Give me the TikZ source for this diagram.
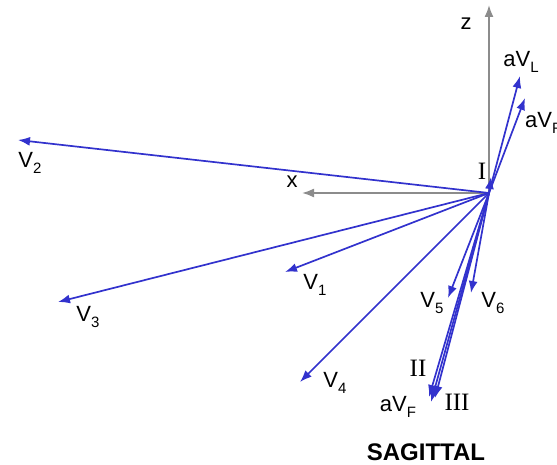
\documentclass[tikz,border=0pt]{standalone}
\usepackage{fontspec}
\setmainfont{Liberation Sans}
\newfontfamily\romanfont{Liberation Serif}
\usetikzlibrary{arrows.meta}
\definecolor{vecblue}{RGB}{50,50,205}
\definecolor{axisgray}{RGB}{140,140,140}
\newcommand{\lsub}[1]{\raisebox{-0.45ex}{\fontsize{15}{15}\selectfont #1}}
\tikzset{
  vec/.style={draw=vecblue, line width=1.7pt, -{Latex[length=12pt,width=9pt]}},
  axis/.style={draw=axisgray, line width=1.7pt, -{Latex[length=12pt,width=9pt]}},
  lbl/.style={font=\fontsize{22}{22}\selectfont, inner sep=0pt},
  rlbl/.style={font=\fontsize{25}{25}\selectfont\romanfont, inner sep=0pt},
}
\begin{document}
\begin{tikzpicture}[x=1pt,y=-1pt]
\useasboundingbox (0,0) rectangle (557,465);
\coordinate (O) at (489,193);
\coordinate (tZ) at (489,5);
\coordinate (tX) at (302,193);
\coordinate (t1) at (285,272);
\coordinate (t2) at (18,140);
\coordinate (t3) at (58,302);
\coordinate (t4) at (300,382);
\coordinate (t5) at (448,298);
\coordinate (t6) at (471,293);
\coordinate (tII) at (429,397);
\coordinate (tF) at (431,402);
\coordinate (tIII) at (435,398);
\coordinate (tL) at (520,76);
\coordinate (tR) at (525,98);
\coordinate (tI) at (491,177);
\draw[axis] (O) -- (tZ);
\draw[axis] (O) -- (tX);
\draw[vec] (O) -- (t2);
\draw[vec] (O) -- (t3);
\draw[vec] (O) -- (t1);
\draw[vec] (O) -- (t4);
\draw[vec] (O) -- (t5);
\draw[vec] (O) -- (t6);
\draw[vec] (O) -- (tII);
\draw[vec] (O) -- (tF);
\draw[vec] (O) -- (tIII);
\draw[vec] (O) -- (tL);
\draw[vec] (O) -- (tR);
\draw[vec] (O) -- (tI);
\node[lbl] (lZ) at (466,24) {z};
\node[lbl] (lX) at (292,182) {x};
\node[rlbl] (lI) at (482,171) {I};
\node[lbl] (l1) at (315,285) {V\lsub{1}};
\node[lbl] (l2) at (30,163) {V\lsub{2}};
\node[lbl] (l3) at (88,317) {V\lsub{3}};
\node[lbl] (l4) at (335,383) {V\lsub{4}};
\node[lbl] (l5) at (432,303) {V\lsub{5}};
\node[lbl] (l6) at (493,303) {V\lsub{6}};
\node[rlbl] (lII) at (418,368) {II};
\node[rlbl] (lIII) at (457,402) {III};
\node[lbl] (lF) at (398,407) {aV\lsub{F}};
\node[lbl] (lL) at (521,62) {aV\lsub{L}};
\node[lbl, anchor=west] (lR) at (525,123) {aV\lsub{R}};
\node[font=\fontsize{24}{24}\selectfont\bfseries, inner sep=0pt] (title) at (426,452) {SAGITTAL};
\end{tikzpicture}
\end{document}
